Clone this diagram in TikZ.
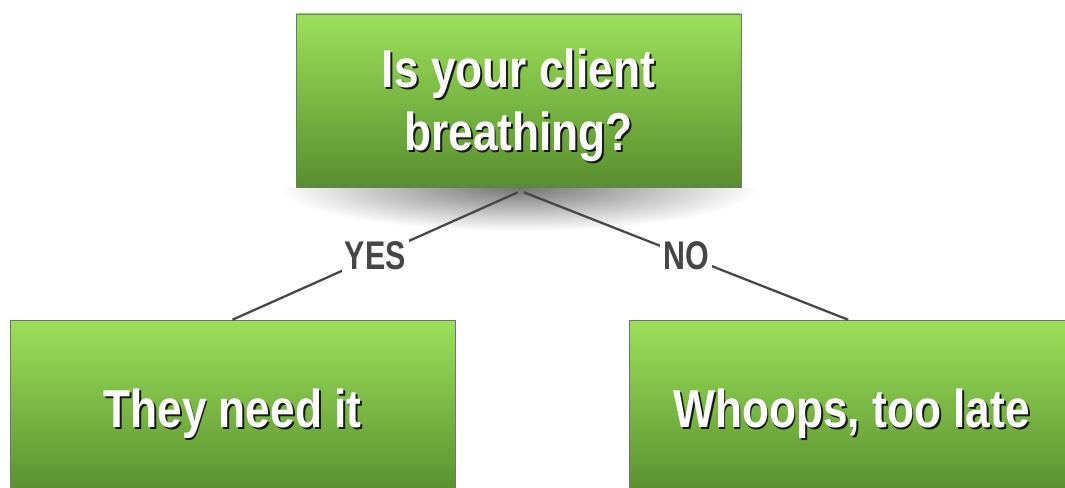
\documentclass[tikz,border=0pt]{standalone}
\usepackage{fontspec}
\newfontfamily\condfont[FakeStretch=0.83]{Liberation Sans}
\newfontfamily\labelfont[FakeStretch=0.76]{Liberation Sans}
\usetikzlibrary{positioning,backgrounds}
\definecolor{boxtop}{RGB}{155,224,90}
\definecolor{boxbottom}{RGB}{88,142,45}
\definecolor{linkgray}{RGB}{70,70,70}
\newcommand\shadowed[1]{\raisebox{-4.5pt}[\height][\depth]{\rlap{\kern1.4pt\raisebox{-1.4pt}{\color{black!90}#1}}#1}}

\begin{document}
\begin{tikzpicture}[x=0.75pt, y=0.75pt,%
    line width=1.7pt, linkgray,
    every node/.style={draw=black!55, thin, rectangle, top color=boxtop, bottom color=boxbottom,
        text=white, font=\condfont\bfseries\fontsize{40}{47}\selectfont, align=center,
        minimum width=333.75pt},
    answer/.style={draw=none, fill=white, top color=white, bottom color=white, text=linkgray,
        font=\labelfont\bfseries\fontsize{30}{32}\selectfont, minimum width=0pt, inner sep=2pt}]
    \clip (0,0) rectangle (1065,487);
    \coordinate (corner) at (1065,0);
    \node(Q) at (518.5,386.5) [minimum height=129.75pt]
        {\shadowed{Is your client}\\\shadowed{breathing?}};
    \node(Y) at (232.5,78.5) [minimum height=132.75pt] {\shadowed{They need it}};
    \node(N) at (851.5,78.5) [minimum height=132.75pt] {\shadowed{Whoops, too late}};
    \begin{scope}[on background layer]
        \clip (0,0) rectangle (Q.south -| corner);
        \shade[inner color=black!55, outer color=white] (Q.south) ellipse (240 and 44);
    \end{scope}

    \draw ([xshift=-0.5pt, yshift=-3.75pt]Q.south) -- node[answer]{YES} (Y.north);
    \draw ([xshift=4pt, yshift=-3.75pt]Q.south) -- node[answer]{NO} ([xshift=-2.5pt]N.north);

\end{tikzpicture}
\end{document}
